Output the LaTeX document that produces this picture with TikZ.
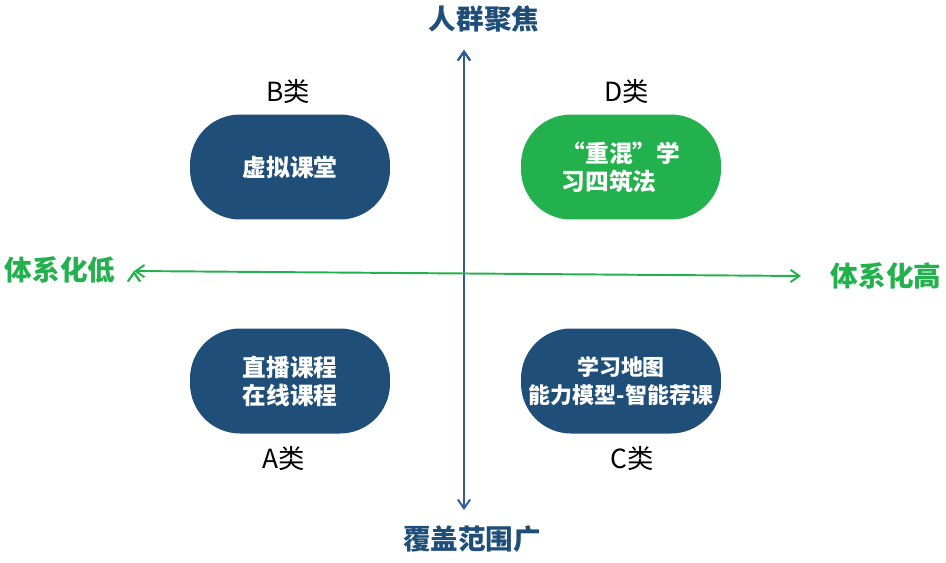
\documentclass[tikz,border=0pt]{standalone}
\usepackage{fontspec}
\setmainfont{Noto Sans CJK SC}
\usetikzlibrary{arrows.meta}
\definecolor{boxblue}{HTML}{1F4E79}
\definecolor{axisblue}{HTML}{2F5C98}
\definecolor{boxgreen}{HTML}{22B14C}
\tikzset{
 quadbox/.style={rounded corners=1cm, minimum width=4cm, minimum height=2.1cm,
   text=white, font=\bfseries\fontsize{13.5}{16}\selectfont, align=center},
 classlabel/.style={font=\fontsize{15}{17}\selectfont},
 axislabel/.style={font=\bfseries\fontsize{15.7}{18}\selectfont}
}
\begin{document}
\begin{tikzpicture}[x=0.02cm,y=-0.02cm]
 \useasboundingbox (0,0) rectangle (946,562);

 \node[axislabel, text=boxblue] (top) at (484,19) {人群聚焦};
 \node[axislabel, text=boxblue] (bottom) at (472,539) {覆盖范围广};
 \node[axislabel, text=boxgreen] (left) at (60,270) {体系化低};
 \node[axislabel, text=boxgreen] (right) at (886,276) {体系化高};

 \coordinate (n) at (464,50);
 \coordinate (s) at (464,510);
 \coordinate (w) at (134,271);
 \coordinate (e) at (801,276);

 \path [{Straight Barb[length=5pt,width=7pt]}-{Straight Barb[length=5pt,width=7pt]}, draw=axisblue, line width=1.1pt] (n) edge node {} (s);
 \path [{Straight Barb[length=5pt,width=7pt]}-{Straight Barb[length=5pt,width=7pt]}, draw=boxgreen, line width=1.1pt] (w) edge node {} (e);

 \node[quadbox, fill=boxblue] (b) at (290,167) {虚拟课堂};
 \node[quadbox, fill=boxgreen, align=left] (d) at (621,167) {“重混”学\\习四筑法};
 \node[quadbox, fill=boxblue] (a) at (290,381) {直播课程\\在线课程};
 \node[quadbox, fill=boxblue, font=\bfseries\fontsize{12.5}{16}\selectfont] (c) at (621,381) {学习地图\\能力模型-智能荐课};

 \node[classlabel] (bl) at (288,91) {B类};
 \node[classlabel] (dl) at (627,91) {D类};
 \node[classlabel] (al) at (284,458) {A类};
 \node[classlabel] (cl) at (632,458) {C类};
\end{tikzpicture}
\end{document}
